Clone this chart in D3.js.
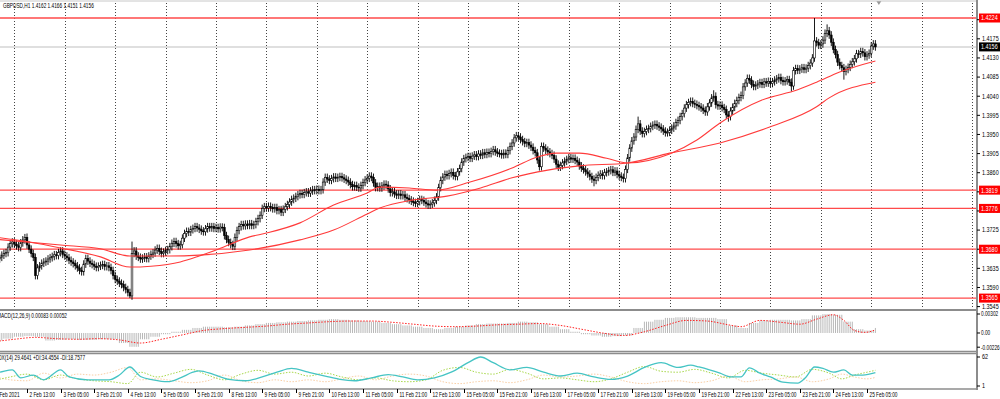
<!DOCTYPE html>
<html>
<head>
<meta charset="utf-8">
<script src="https://cdn.jsdelivr.net/npm/d3@7"></script>
<style>
body { margin: 0; background: #fff; }
svg { display: block; font-family: "Liberation Sans", sans-serif; }
</style>
</head>
<body>
<script>
// GBPUSD H1 closes, one per bar, first bar 1 Feb 21:00
var closes = [
  1.3659,1.3664,1.3657,1.3661,1.3666,1.3670,1.3672,1.3685,1.3693,1.3697,
  1.3692,1.3688,1.3684,1.3695,1.3702,1.3708,1.3690,1.3680,1.3670,1.3661,
  1.3618,
  1.3636,1.3641,1.3647,1.3650,1.3652,1.3657,1.3660,1.3663,1.3667,1.3665,
  1.3672,1.3676,1.3668,1.3664,1.3660,1.3654,1.3650,1.3646,1.3641,1.3636,
  1.3630,1.3627,1.3645,1.3658,1.3652,1.3647,1.3644,1.3640,1.3637,1.3640,
  1.3642,1.3644,1.3639,1.3641,1.3637,1.3630,1.3618,1.3609,1.3605,1.3600,
  1.3597,1.3590,1.3585,1.3578,1.3570,1.3670,
  1.3676,1.3664,1.3661,1.3657,1.3659,1.3662,1.3658,1.3664,1.3668,1.3671,
  1.3678,1.3682,1.3675,1.3670,1.3673,1.3677,1.3679,1.3686,1.3694,1.3698,
  1.3693,1.3688,1.3691,1.3706,1.3717,1.3722,1.3720,1.3726,1.3729,1.3733,
  1.3730,1.3727,1.3723,1.3721,1.3728,1.3733,1.3730,1.3733,1.3729,1.3731,
  1.3728,1.3732,1.3731,1.3712,1.3703,1.3696,1.3691,1.3687,1.3708,1.3724,
  1.3733,1.3738,1.3735,1.3739,1.3736,1.3740,1.3736,1.3738,1.3745,1.3752,
  1.3760,1.3776,
  1.3780,1.3777,1.3781,1.3778,1.3775,1.3778,1.3771,1.3773,1.3767,1.3774,
  1.3780,1.3785,1.3791,1.3797,1.3800,1.3804,1.3808,1.3811,1.3809,1.3813,
  1.3815,1.3812,1.3817,1.3820,1.3818,1.3821,1.3818,1.3820,1.3838,1.3849,
  1.3845,1.3842,1.3846,1.3850,1.3847,1.3849,1.3851,1.3848,1.3845,1.3842,
  1.3838,1.3832,1.3827,1.3830,1.3826,1.3824,1.3830,1.3837,1.3843,1.3847,
  1.3852,1.3849,
  1.3836,1.3825,1.3828,1.3824,1.3829,1.3833,1.3831,1.3822,1.3813,1.3815,
  1.3810,1.3807,1.3810,1.3806,1.3808,1.3802,1.3799,1.3796,1.3793,1.3790,
  1.3788,1.3792,1.3797,1.3795,1.3791,1.3787,1.3784,1.3786,1.3789,1.3795,
  1.3803,1.3825,1.3842,1.3850,1.3856,1.3853,1.3858,1.3861,1.3853,1.3851,
  1.3862,1.3870,1.3885,1.3893,
  1.3896,1.3898,1.3894,1.3899,1.3902,1.3898,1.3904,1.3901,1.3907,1.3903,
  1.3908,1.3905,1.3910,1.3914,1.3909,1.3906,1.3905,1.3902,1.3906,1.3903,
  1.3912,1.3922,1.3930,1.3942,1.3947,1.3944,1.3938,1.3933,1.3929,1.3931,
  1.3925,1.3920,1.3912,1.3907,1.3890,1.3874,
  1.3922,1.3918,1.3913,1.3909,1.3905,1.3901,1.3892,1.3880,1.3873,1.3877,
  1.3883,1.3887,1.3891,1.3895,1.3892,1.3894,1.3889,1.3885,1.3876,1.3871,
  1.3867,1.3862,1.3857,1.3851,1.3845,1.3842,1.3849,1.3854,1.3857,1.3853,
  1.3860,1.3862,1.3865,1.3867,1.3861,1.3864,1.3856,1.3852,1.3849,1.3846,
  1.3868,1.3895,
  1.3918,1.3935,1.3944,1.3962,1.3975,1.3958,1.3952,1.3957,1.3962,1.3964,
  1.3969,1.3972,1.3974,1.3970,1.3967,1.3963,1.3958,1.3954,1.3955,1.3960,
  1.3965,1.3970,1.3978,1.3983,1.3992,1.3999,1.4012,1.4020,1.4025,1.4028,
  1.4023,1.4021,1.4018,1.4015,1.4012,1.4007,1.4003,1.4015,1.4024,1.4036,
  1.4040,1.4020,1.4017,1.4019,1.4013,1.4009,1.3996,1.3992,
  1.4005,1.4014,1.4023,1.4030,1.4037,1.4042,1.4062,1.4071,1.4082,1.4078,
  1.4068,1.4063,1.4066,1.4069,1.4072,1.4068,1.4074,1.4071,1.4075,1.4070,
  1.4074,1.4078,1.4081,1.4084,1.4077,1.4074,1.4076,1.4079,1.4073,1.4064,
  1.4100,1.4105,1.4101,1.4104,1.4107,1.4103,1.4106,1.4112,1.4118,1.4130,
  1.4170,1.4166,1.4160,1.4163,1.4172,1.4188,1.4194,1.4184,1.4167,1.4150,
  1.4138,1.4120,1.4112,1.4107,1.4098,1.4103,1.4108,1.4115,1.4121,1.4128,
  1.4140,1.4139,1.4145,1.4142,1.4133,1.4137,1.4141,1.4158,1.4163,1.4156
];
// long wicks that stand out: [bar, price]
var highSpikes = [[15, 1.3716], [66, 1.3698], [307, 1.3992], [343, 1.4054], [391, 1.4224], [397, 1.4209]];
var lowSpikes = [[65, 1.3565], [286, 1.3828], [350, 1.3980], [380, 1.4051], [405, 1.4079]];
var wickSize = 0.0009;

// moving averages: [bar, price]
var maFast = [[0,1.3709],[17,1.3697],[32,1.3683],[51,1.3662],[65,1.3638],[75,1.3640],[89,1.3650],[98,1.3664],
  [107,1.3680],[122,1.3709],[130,1.3718],[146,1.3742],[162,1.3784],[178,1.3812],[184,1.3826],[198,1.3824],
  [211,1.3819],[227,1.3838],[247,1.3871],[259,1.3897],[268,1.3906],[279,1.3906],[292,1.3894],[302,1.3883],
  [322,1.3904],[335,1.3937],[346,1.3977],[366,1.4031],[383,1.4055],[392,1.4073],[403,1.4097],[420,1.4123]];
var maSlow = [[0,1.3704],[32,1.3690],[51,1.3681],[65,1.3664],[84,1.3664],[98,1.3666],[122,1.3678],[146,1.3702],
  [162,1.3725],[178,1.3763],[184,1.3777],[200,1.3796],[216,1.3805],[232,1.3824],[247,1.3848],[264,1.3866],
  [279,1.3876],[302,1.3883],[322,1.3906],[346,1.3930],[370,1.3968],[392,1.4015],[398,1.4036],[420,1.4073]];

var levels = [1.4224, 1.3819, 1.3776, 1.3680, 1.3565];
var lastPrice = 1.4156;
var priceTicks = [1.4220, 1.4175, 1.4130, 1.4085, 1.4040, 1.3995, 1.3950, 1.3905, 1.3860, 1.3815, 1.3770, 1.3725, 1.3680, 1.3635, 1.3590, 1.3545];

// MACD(12,26,9): histogram every 5 bars, signal as [bar, value]
var macdHist = [
  -0.0012,-0.0009,-0.0006,-0.0005,-0.0006,-0.0012,-0.0011,-0.0010,-0.0011,-0.0011,
  -0.0010,-0.0010,-0.0016,-0.0022,-0.0010,-0.0006,-0.0002,0.0002,0.0005,0.0008,
  0.0010,0.0010,0.0009,0.0010,0.0012,0.0014,0.0016,0.0017,0.0018,0.0019,
  0.0020,0.0021,0.0022,0.0021,0.0020,0.0019,0.0018,0.0016,0.0014,0.0012,
  0.0010,0.0008,0.0006,0.0008,0.0010,0.0012,0.0014,0.0015,0.0015,0.0016,
  0.0018,0.0017,0.0014,0.0010,0.0006,0.0002,-0.0002,-0.0004,-0.0006,-0.0005,
  -0.0004,0.0008,0.0018,0.0021,0.0024,0.0025,0.0025,0.0024,0.0024,0.0022,
  0.0012,0.0008,0.0016,0.0020,0.0021,0.0021,0.0020,0.0022,0.0028,0.0030,
  0.0029,0.0018,0.0006,0.0004,0.0008
];
var macdSignal = [[0,-0.0014],[10,-0.0010],[20,-0.0007],[30,-0.0009],[40,-0.0010],[50,-0.0009],[60,-0.0011],
  [70,-0.0016],[80,-0.0010],[90,-0.0003],[100,0.0004],[110,0.0007],[120,0.0009],[130,0.0011],[140,0.0014],
  [150,0.0016],[160,0.0018],[170,0.0019],[180,0.0019],[190,0.0017],[200,0.0014],[210,0.0011],[220,0.0010],
  [230,0.0011],[240,0.0013],[250,0.0014],[260,0.0015],[270,0.0012],[280,0.0006],[290,0.0000],[300,-0.0004],
  [310,0.0002],[320,0.0012],[330,0.0020],[340,0.0019],[350,0.0013],[356,0.0010],[365,0.0020],[375,0.0017],
  [384,0.0014],[392,0.0022],[400,0.0029],[405,0.0020],[410,0.0004],[415,0.0001],[420,0.0005]];

// ADX(14) and the two DI lines: [bar, value]
var adx = [[0,28],[3,30],[9,35],[13,18],[19,24],[24,14],[32,35],[36,20],[45,14],[55,14],[60,24],[65,41],
  [70,21],[76,14],[83,10],[89,18],[95,30],[98,33],[105,25],[112,15],[120,12],[128,20],[135,30],[142,38],
  [150,30],[158,22],[165,15],[172,12],[180,18],[188,25],[195,20],[202,14],[210,18],[218,30],[226,50],
  [232,62],[238,50],[246,35],[254,40],[262,30],[270,22],[278,28],[286,20],[294,15],[302,22],[310,40],
  [318,50],[326,40],[332,45],[336,41],[341,35],[346,28],[351,20],[356,20],[360,39],[365,28],[370,20],
  [376,9],[383,7],[387,20],[391,41],[395,38],[400,30],[405,35],[409,24],[414,24],[420,29]];
var plusDI = [[0,12],[8,20],[16,26],[24,14],[32,24],[40,16],[48,12],[56,10],[64,6],[70,30],[78,20],[86,28],
  [94,36],[102,24],[110,14],[118,26],[126,34],[134,26],[142,30],[150,22],[158,28],[166,20],[174,14],[182,18],
  [190,12],[198,10],[206,14],[214,34],[222,40],[230,30],[238,26],[246,36],[254,28],[262,16],[270,18],[278,14],
  [286,10],[294,16],[302,30],[310,42],[318,32],[326,30],[334,36],[342,28],[350,18],[358,34],[366,28],[374,24],
  [382,20],[390,36],[398,28],[404,16],[410,24],[416,30],[420,34]];
var minusDI = [[0,22],[8,14],[16,12],[24,28],[32,18],[40,26],[48,24],[56,30],[64,40],[70,14],[78,16],[86,12],
  [94,8],[102,12],[110,24],[118,12],[126,8],[134,14],[142,10],[150,14],[158,10],[166,16],[174,22],[182,14],
  [190,22],[198,26],[206,22],[214,10],[222,6],[230,10],[238,12],[246,8],[254,14],[262,24],[270,20],[278,22],
  [286,26],[294,20],[302,10],[310,6],[318,10],[326,12],[334,8],[342,12],[350,22],[358,10],[366,14],[374,16],
  [382,20],[390,10],[398,16],[404,26],[410,20],[416,16],[420,19]];

var W = 1000, H = 399;
var axisX = 977;
var svg = d3.select("body").append("svg").attr("width", W).attr("height", H);

var x = d3.scaleLinear().domain([0, 420]).range([-6.6, 875.4]);
var y = d3.scaleLinear().domain([1.3545, 1.4224]).range([306.6, 18]);
var yMacd = d3.scaleLinear().domain([-0.00226, 0.00302]).range([347.2, 314]);
var yDmi = d3.scaleLinear().domain([1, 62]).range([386, 357]);

// small squeezed text, like the terminal font
function label(parent, px, py, s, sx, color) {
  return parent.append("text")
    .attr("transform", "translate(" + px + "," + py + ") scale(" + sx + ",1)")
    .attr("font-size", "7px").attr("fill", color || "#000").text(s);
}

// bar times, skipping weekends
var times = [];
var t = new Date(Date.UTC(2021, 1, 1, 21));
for (var i = 0; i < closes.length; i++) {
  times.push(new Date(t));
  t = new Date(t.getTime() + 3600000);
  if (t.getUTCDay() == 6) t = new Date(t.getTime() + 48 * 3600000);
}

svg.append("clipPath").attr("id", "cMain").append("rect").attr("x", 0).attr("y", 2).attr("width", axisX).attr("height", 307);
svg.append("clipPath").attr("id", "cMacd").append("rect").attr("x", 0).attr("y", 312).attr("width", axisX).attr("height", 38);
svg.append("clipPath").attr("id", "cDmi").append("rect").attr("x", 0).attr("y", 354).attr("width", axisX).attr("height", 34);

var main = svg.append("g").attr("clip-path", "url(#cMain)");

// dotted day grid
var gridBars = d3.range(10, 470, 24);
main.selectAll("line.grid").data(gridBars).enter().append("line")
  .attr("x1", function (d) { return Math.round(x(d)) + 0.5; })
  .attr("x2", function (d) { return Math.round(x(d)) + 0.5; })
  .attr("y1", 0).attr("y2", 309)
  .attr("stroke", "#444").attr("stroke-width", 1).attr("stroke-dasharray", "1,2");

// current price line
main.append("line").attr("x1", 0).attr("x2", axisX)
  .attr("y1", y(lastPrice)).attr("y2", y(lastPrice))
  .attr("stroke", "#d4d4d4").attr("stroke-width", 1.5);

// horizontal levels
main.selectAll("line.level").data(levels).enter().append("line")
  .attr("x1", 0).attr("x2", axisX)
  .attr("y1", function (d) { return y(d); }).attr("y2", function (d) { return y(d); })
  .attr("stroke", "#ff4a4a").attr("stroke-width", 1.3);

// candles
var candles = closes.map(function (c, i) {
  var o = i > 0 ? closes[i - 1] : c;
  var hi = Math.max(o, c) + wickSize, lo = Math.min(o, c) - wickSize;
  highSpikes.forEach(function (s) { if (s[0] == i) hi = s[1]; });
  lowSpikes.forEach(function (s) { if (s[0] == i) lo = s[1]; });
  return { i: i, o: o, c: c, h: hi, l: lo };
});
var cg = main.selectAll("g.candle").data(candles).enter().append("g");
cg.append("line")
  .attr("x1", function (d) { return x(d.i); }).attr("x2", function (d) { return x(d.i); })
  .attr("y1", function (d) { return y(d.h); }).attr("y2", function (d) { return y(d.l); })
  .attr("stroke", "#000").attr("stroke-width", 0.9);
cg.append("rect")
  .attr("x", function (d) { return x(d.i) - 0.85; })
  .attr("width", 1.7)
  .attr("y", function (d) { return y(Math.max(d.o, d.c)); })
  .attr("height", function (d) { return Math.max(0.8, Math.abs(y(d.o) - y(d.c))); })
  .attr("fill", function (d) { return d.c >= d.o ? "#fff" : "#000"; })
  .attr("stroke", "#000").attr("stroke-width", 0.6);

// moving averages
var maLine = d3.line().x(function (d) { return x(d[0]); }).y(function (d) { return y(d[1]); }).curve(d3.curveMonotoneX);
[maFast, maSlow].forEach(function (m) {
  main.append("path").attr("d", maLine(m)).attr("fill", "none").attr("stroke", "#ff3b3b").attr("stroke-width", 1.1);
});

// chart shift marker
svg.append("path").attr("d", "M" + (x(420) + 1) + ",1 l5,0 l-2.5,4 z").attr("fill", "#999");

// MACD panel
var mg = svg.append("g").attr("clip-path", "url(#cMacd)");
mg.selectAll("line.h").data(closes).enter().append("line")
  .attr("x1", function (d, i) { return x(i); }).attr("x2", function (d, i) { return x(i); })
  .attr("y1", yMacd(0))
  .attr("y2", function (d, i) { return yMacd(macdHist[Math.floor(i / 5)]); })
  .attr("stroke", "#b8b8b8").attr("stroke-width", 1);
var sigLine = d3.line().x(function (d) { return x(d[0]); }).y(function (d) { return yMacd(d[1]); }).curve(d3.curveMonotoneX);
mg.append("path").attr("d", sigLine(macdSignal)).attr("fill", "none")
  .attr("stroke", "#ff2020").attr("stroke-width", 1).attr("stroke-dasharray", "1.5,1.5");

// DMI panel
var dg = svg.append("g").attr("clip-path", "url(#cDmi)");
var dLine = d3.line().x(function (d) { return x(d[0]); }).y(function (d) { return yDmi(d[1]); }).curve(d3.curveMonotoneX);
dg.append("path").attr("d", dLine(minusDI)).attr("fill", "none").attr("stroke", "#f9cfa6").attr("stroke-width", 1).attr("stroke-dasharray", "1.5,1.5");
dg.append("path").attr("d", dLine(plusDI)).attr("fill", "none").attr("stroke", "#a8d84a").attr("stroke-width", 1).attr("stroke-dasharray", "1.5,1.5");
dg.append("path").attr("d", dLine(adx)).attr("fill", "none").attr("stroke", "#45c4c4").attr("stroke-width", 1.3);

// frames
var frameColor = "#8c8c8c";
svg.append("line").attr("x1", 0).attr("x2", axisX).attr("y1", 1).attr("y2", 1).attr("stroke", "#c8c8c8");
[310, 351.5, 353.5, 389].forEach(function (yy) {
  svg.append("line").attr("x1", 0).attr("x2", axisX + 1).attr("y1", yy).attr("y2", yy)
    .attr("stroke", frameColor).attr("stroke-width", yy == 310 ? 2 : 1.5);
});
svg.append("line").attr("x1", axisX).attr("x2", axisX).attr("y1", 0).attr("y2", 390)
  .attr("stroke", frameColor).attr("stroke-width", 2);

// price axis
var pa = svg.append("g");
priceTicks.forEach(function (d) {
  pa.append("line").attr("x1", axisX).attr("x2", axisX + 3).attr("y1", y(d)).attr("y2", y(d)).attr("stroke", "#000");
  label(pa, axisX + 5, y(d) + 2.4, d.toFixed(4), 0.78);
});
function tag(v, bg) {
  pa.append("rect").attr("x", axisX + 2).attr("y", y(v) - 4.5).attr("width", W - axisX - 2).attr("height", 9).attr("fill", bg);
  label(pa, axisX + 4, y(v) + 2.4, v.toFixed(4), 0.78, "#fff");
}
levels.forEach(function (v) { tag(v, "#ff0000"); });
tag(lastPrice, "#000");

// MACD and DMI axes
[[0.00302, "0.00302"], [0, "0.00"], [-0.00226, "-0.00226"]].forEach(function (d) {
  svg.append("line").attr("x1", axisX).attr("x2", axisX + 3).attr("y1", yMacd(d[0])).attr("y2", yMacd(d[0])).attr("stroke", "#000");
  label(svg, axisX + 4, yMacd(d[0]) + 2.4, d[1], 0.68);
});
[[62, "62"], [1, "1"]].forEach(function (d) {
  svg.append("line").attr("x1", axisX).attr("x2", axisX + 3).attr("y1", yDmi(d[0])).attr("y2", yDmi(d[0])).attr("stroke", "#000");
  label(svg, axisX + 5, yDmi(d[0]) + 2.4, d[1], 0.78);
});

// time axis
var months = ["Jan", "Feb", "Mar"];
var labelBars = d3.range(0, closes.length, 16);
var ta = svg.append("g");
labelBars.forEach(function (b, k) {
  var tt = times[b];
  var txt = tt.getUTCDate() + " " + months[tt.getUTCMonth()] + " " +
    (k == 0 ? "2021" : d3.format("02")(tt.getUTCHours()) + ":00");
  var xx = Math.round(x(b)) + 0.5;
  ta.append("line").attr("x1", xx).attr("x2", xx).attr("y1", 389).attr("y2", 393).attr("stroke", "#000");
  label(ta, xx + 2, 397, txt, 0.68);
});

// titles
label(svg, 3, 8, "GBPUSD,H1  1.4162 1.4166 1.4151 1.4156", 0.68);
label(svg, -3, 318, "MACD(12,26,9) 0.00083 0.00052", 0.68);
label(svg, -5, 360, "ADX(14) 29.4641 +DI:34.4554 -DI:18.7577", 0.68);
</script>
</body>
</html>
